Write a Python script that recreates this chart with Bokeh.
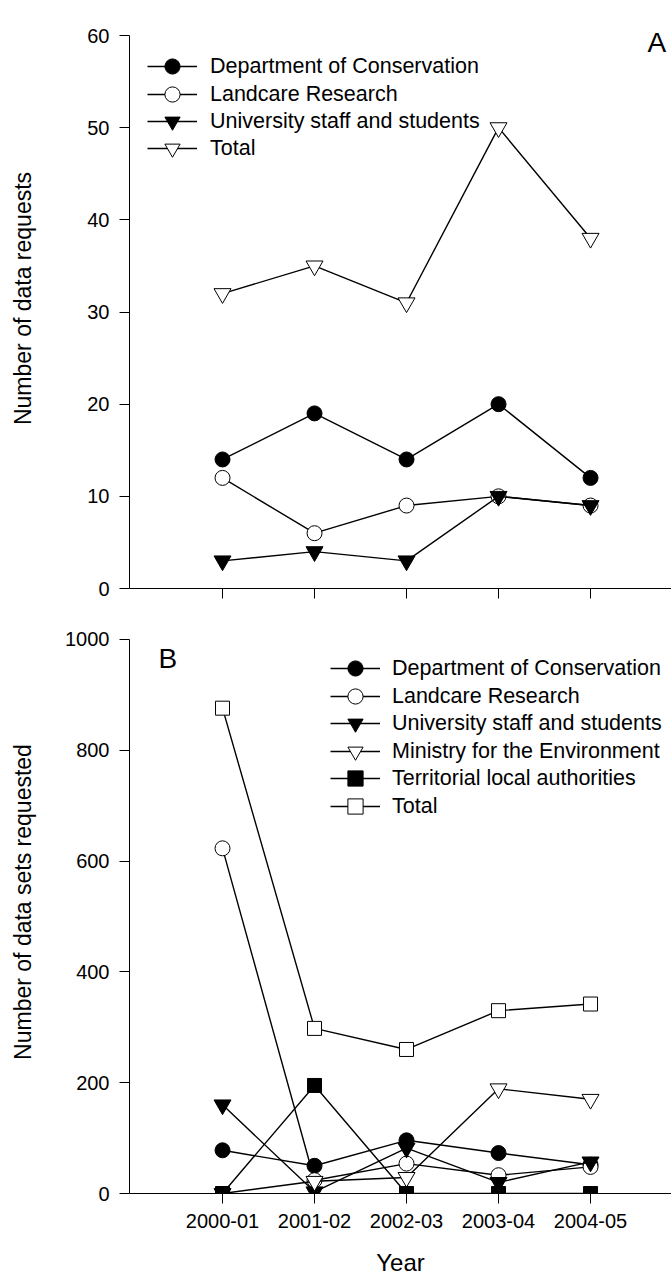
from bokeh.plotting import figure
from bokeh.models import Range1d, FixedTicker, Legend, LegendItem, Label
from bokeh.layouts import column
from bokeh.embed import file_html
from bokeh.resources import INLINE

# ---------------- data ----------------
years = ["2000-01", "2001-02", "2002-03", "2003-04", "2004-05"]
xpos = [1, 2, 3, 4, 5]

# Panel A: number of data requests
a_doc = [14, 19, 14, 20, 12]
a_landcare = [12, 6, 9, 10, 9]
a_univ = [3, 4, 3, 10, 9]
a_total = [32, 35, 31, 50, 38]

# Panel B: number of data sets requested
b_doc = [78, 50, 96, 73, 52]
b_landcare = [623, 24, 54, 33, 48]
b_univ = [160, 3, 82, 20, 57]
b_ministry = [0, 22, 29, 189, 170]
b_territorial = [0, 195, 0, 0, 0]
b_total = [876, 298, 260, 330, 342]

a_yticks = [0, 10, 20, 30, 40, 50, 60]
b_yticks = [0, 200, 400, 600, 800, 1000]

FONT = "Liberation Sans"
FRAME_W = 542
XR = (-0.011, 5.88)


def style_axes(p):
    for ax in (p.xaxis[0], p.yaxis[0]):
        ax.axis_line_color = "black"
        ax.axis_line_width = 1
        ax.major_tick_line_color = "black"
        ax.major_tick_in = 0
        ax.major_tick_out = 10
        ax.minor_tick_line_color = None
        ax.major_label_text_font = FONT
        ax.major_label_text_font_size = "20px"
        ax.major_label_text_color = "black"
        ax.axis_label_text_font = FONT
        ax.axis_label_text_font_style = "normal"
        ax.axis_label_text_color = "black"
        ax.major_label_standoff = 10
    p.xgrid.grid_line_color = None
    p.ygrid.grid_line_color = None
    p.outline_line_color = None


def add_series(p, x, y, marker, fill, size):
    ln = p.line(x, y, line_color="black", line_width=1.4)
    sc = p.scatter(x, y, marker=marker, size=size, fill_color=fill,
                   line_color="black", line_width=1)
    return [ln, sc]


def add_legend_rows(p, entries, x_off, row_centers, frame_bottom, standoff):
    # one single-item legend per row so that the rows can sit closer
    # together than the glyph box height
    for (label, rends), c in zip(entries, row_centers):
        leg = Legend(items=[LegendItem(label=label, renderers=rends)],
                     location=(x_off, frame_bottom - (c + 19)),
                     glyph_width=50, glyph_height=38, label_height=23,
                     padding=0, margin=0, label_standoff=standoff,
                     label_text_font=FONT, label_text_font_size="21.5px",
                     label_text_color="black", border_line_color=None,
                     background_fill_alpha=0)
        p.add_layout(leg, "center")


# ---------------- Panel A ----------------
# frame: top 8, bottom 588 (60 at y=35)
pA = figure(frame_width=FRAME_W, frame_height=580,
            x_range=Range1d(*XR), y_range=Range1d(0, 62.93),
            output_backend="svg", toolbar_location=None,
            min_border_left=129, min_border_right=0,
            min_border_top=8, min_border_bottom=12)
style_axes(pA)
pA.xaxis.ticker = FixedTicker(ticks=xpos)
pA.xaxis.major_label_overrides = {x: "" for x in xpos}
pA.xaxis.major_label_text_font_size = "0px"
pA.xaxis.major_label_standoff = 0
pA.yaxis.ticker = FixedTicker(ticks=a_yticks)
pA.yaxis.bounds = (0, 60)
pA.yaxis.axis_label = "Number of data requests"
pA.yaxis.axis_label_text_font_size = "23px"
pA.yaxis.axis_label_standoff = 48

rA = [
    ("Department of Conservation", add_series(pA, xpos, a_doc, "circle", "black", 15)),
    ("Landcare Research", add_series(pA, xpos, a_landcare, "circle", "white", 15)),
    ("University staff and students", add_series(pA, xpos, a_univ, "inverted_triangle", "black", 17)),
    ("Total", add_series(pA, xpos, a_total, "inverted_triangle", "white", 17)),
]
add_legend_rows(pA, rA, 18, [66, 94, 121, 148], 588, 13)
pA.add_layout(Label(x=518, y=546, x_units="screen", y_units="screen", text="A",
                    text_font=FONT, text_font_size="28px", text_color="black",
                    text_baseline="alphabetic"))

# ---------------- Panel B ----------------
# frame: top 610, bottom 1193 (1000 at y=639)
pB = figure(frame_width=FRAME_W, frame_height=583,
            x_range=Range1d(*XR), y_range=Range1d(0, 1052.3),
            output_backend="svg", toolbar_location=None,
            min_border_left=129, min_border_right=0,
            min_border_top=10, min_border_bottom=86)
style_axes(pB)
pB.xaxis.ticker = FixedTicker(ticks=xpos)
pB.xaxis.major_label_overrides = {x: y for x, y in zip(xpos, years)}
pB.xaxis.axis_label = "Year"
pB.xaxis.axis_label_text_font_size = "24px"
pB.xaxis.axis_label_standoff = 18
pB.yaxis.ticker = FixedTicker(ticks=b_yticks)
pB.yaxis.bounds = (0, 1000)
pB.yaxis.axis_label = "Number of data sets requested"
pB.yaxis.axis_label_text_font_size = "23px"
pB.yaxis.axis_label_standoff = 26

rB = [
    ("Department of Conservation", add_series(pB, xpos, b_doc, "circle", "black", 15)),
    ("Landcare Research", add_series(pB, xpos, b_landcare, "circle", "white", 15)),
    ("University staff and students", add_series(pB, xpos, b_univ, "inverted_triangle", "black", 17)),
    ("Ministry for the Environment", add_series(pB, xpos, b_ministry, "inverted_triangle", "white", 17)),
    ("Territorial local authorities", add_series(pB, xpos, b_territorial, "square", "black", 14)),
    ("Total", add_series(pB, xpos, b_total, "square", "white", 14)),
]
add_legend_rows(pB, rB, 201, [668, 696, 723, 751, 778, 806], 1193, 12)
pB.add_layout(Label(x=29, y=535, x_units="screen", y_units="screen", text="B",
                    text_font=FONT, text_font_size="28px", text_color="black",
                    text_baseline="alphabetic"))

layout = column(pA, pB, spacing=0)
open("out.html", "w").write(file_html(layout, INLINE))
